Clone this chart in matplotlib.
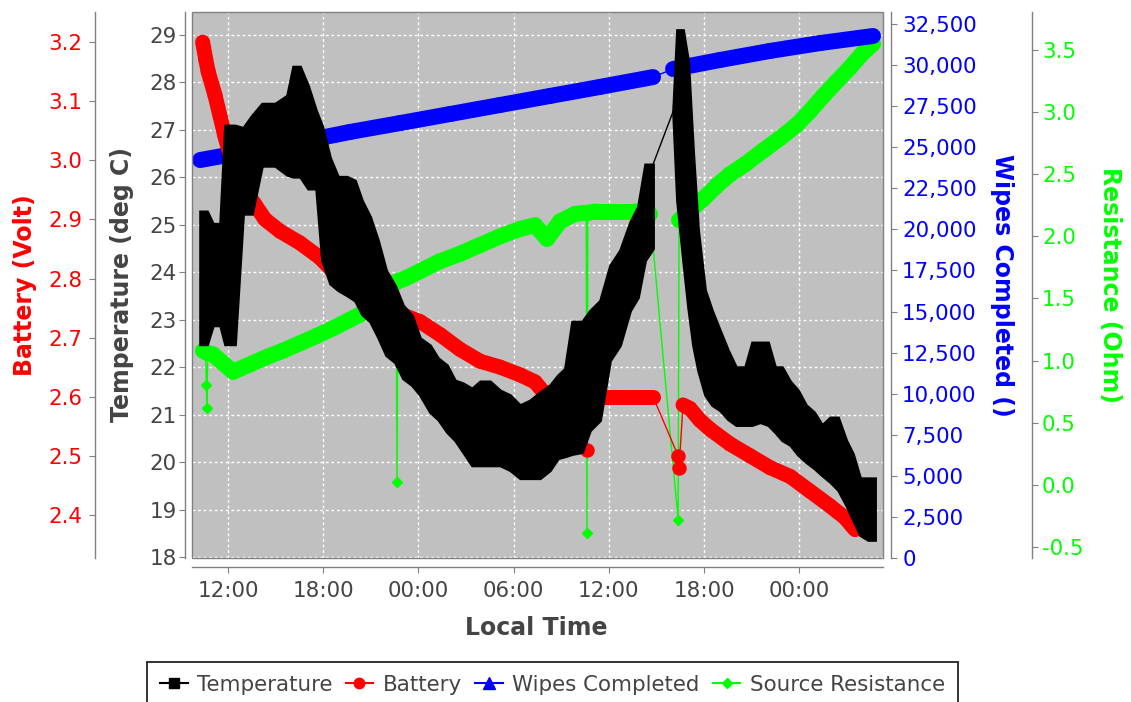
import numpy as np
import matplotlib
matplotlib.use("Agg")
import matplotlib.pyplot as plt
from matplotlib.collections import LineCollection
from matplotlib.lines import Line2D
from matplotlib.patches import Rectangle
from matplotlib.ticker import FixedLocator, FuncFormatter

# all times are hours counted from midnight of the first day
TEMP_HOURS = [10.24, 10.68, 11.05, 11.50, 11.81, 12.44, 12.95, 13.51, 14.14, 14.96,
              15.72, 16.10, 16.54, 17.04, 17.55, 17.92, 18.43, 18.93, 19.50, 20.00,
              20.44, 20.95, 21.45, 21.96, 22.52, 23.03, 23.59, 24.10, 24.73, 25.23,
              25.80, 26.30, 26.81, 27.37, 27.88, 28.51, 29.14, 29.77, 30.40, 31.03,
              31.66, 32.29, 32.79, 33.23, 33.68, 34.31, 34.81, 35.44, 36.07, 36.70,
              37.33, 37.83, 38.28, 38.78, 40.04, 40.29, 40.67, 40.99, 41.30, 41.62,
              42.06, 42.50, 43.00, 43.51, 44.01, 44.58, 45.02, 45.52, 46.03, 46.47,
              46.91, 47.42, 47.92, 48.42, 48.93, 49.43, 49.94, 50.44, 50.95, 51.38,
              51.83, 52.33, 52.77]
# the temperature flickers between two readings, so keep the top and bottom of it
TEMP_HIGH = [25.28, 25.28, 25.02, 25.02, 27.09, 27.09, 27.04, 27.30, 27.55, 27.55,
             27.72, 28.33, 28.33, 27.93, 27.40, 27.09, 26.41, 26.01, 26.01, 25.93,
             25.51, 25.17, 24.67, 24.04, 23.72, 23.30, 23.09, 22.61, 22.46, 22.19,
             22.04, 21.72, 21.66, 21.55, 21.70, 21.70, 21.51, 21.41, 21.20, 21.30,
             21.47, 21.62, 21.83, 21.97, 22.96, 22.96, 23.19, 23.40, 24.14, 24.46,
             25.05, 25.38, 26.27, 26.27, 27.38, 29.10, 29.10, 28.45, 26.56, 24.88,
             23.62, 23.19, 22.77, 22.35, 22.00, 22.00, 22.52, 22.52, 22.52, 22.00,
             22.00, 21.70, 21.51, 21.20, 21.05, 20.78, 20.94, 20.94, 20.46, 20.17,
             19.66, 19.66, 19.66]
TEMP_LOW = [22.48, 22.48, 22.88, 22.88, 22.48, 22.48, 25.23, 25.23, 26.24, 26.24,
            26.05, 26.01, 26.01, 25.76, 25.76, 24.25, 23.76, 23.62, 23.51, 23.40,
            23.11, 22.96, 22.63, 22.25, 22.10, 21.76, 21.62, 21.41, 21.05, 20.90,
            20.63, 20.46, 20.21, 19.93, 19.93, 19.93, 19.93, 19.83, 19.66, 19.66,
            19.66, 19.83, 20.08, 20.12, 20.17, 20.21, 20.67, 20.88, 22.14, 22.46,
            23.19, 23.47, 24.25, 24.50, 27.38, 25.51, 24.25, 23.26, 22.46, 21.93,
            21.41, 21.20, 21.09, 20.90, 20.78, 20.78, 20.78, 20.84, 20.78, 20.63,
            20.46, 20.36, 20.15, 20.00, 19.87, 19.72, 19.58, 19.41, 19.09, 18.78,
            18.46, 18.36, 18.36]

BATT_HOURS = [10.40, 10.60, 10.75, 11.18, 11.81, 12.44, 13.07, 13.70, 14.33, 15.28,
              16.54, 17.80, 19.06, 20.32, 21.58, 22.84, 24.10, 25.36, 26.62, 27.88,
              29.14, 30.40, 31.34, 31.97, 32.92, 34.18, 34.57, 34.67, 34.81, 36.07,
              37.33, 38.78, 40.67, 41.11, 41.74, 42.37, 43.63, 44.89, 46.15, 47.42,
              48.68, 49.94, 50.88, 51.51]
BATT_VOLTS = [3.20, 3.17, 3.15, 3.11, 3.04, 2.98, 2.95, 2.925, 2.90, 2.88,
              2.86, 2.835, 2.80, 2.77, 2.755, 2.74, 2.727, 2.705, 2.68, 2.66,
              2.65, 2.637, 2.625, 2.605, 2.60, 2.60, 2.60, 2.60, 2.60, 2.60,
              2.60, 2.60, 2.586, 2.58, 2.56, 2.545, 2.52, 2.50, 2.48, 2.465,
              2.44, 2.415, 2.395, 2.375]
BATT_GLITCH_HOURS = [34.62, 40.36, 40.42]
BATT_GLITCH_VOLTS = [2.51, 2.50, 2.48]

WIPES_HOURS = [10.24, 13.39, 16.54, 19.69, 22.84, 25.99, 29.14, 32.29, 35.44, 38.78,
               40.04, 43.00, 46.15, 49.31, 52.64]
WIPES_COUNT = [24220, 24770, 25320, 25930, 26470, 27020, 27570, 28120, 28670, 29270,
               29760, 30310, 30860, 31340, 31770]

RES_HOURS = [10.42, 10.58, 10.72, 11.05, 11.68, 12.32, 13.39, 14.46, 15.47, 16.54,
             17.61, 18.62, 19.69, 20.76, 21.26, 22.21, 22.60, 22.70, 23.15, 24.10,
             25.36, 26.62, 27.88, 29.14, 30.40, 31.34, 32.10, 32.92, 33.86, 34.57,
             34.67, 35.13, 36.39, 37.64, 38.59, 40.42, 41.11, 41.93, 42.81, 43.63,
             44.58, 45.71, 46.78, 47.86, 48.68, 49.50, 50.38, 51.20, 51.95, 52.64]
RES_OHMS = [1.08, 1.07, 1.06, 1.05, 0.98, 0.91, 0.97, 1.03, 1.08, 1.14,
            1.20, 1.26, 1.33, 1.40, 1.58, 1.62, 1.63, 1.64, 1.66, 1.72,
            1.80, 1.86, 1.93, 2.00, 2.06, 2.09, 1.98, 2.12, 2.18, 2.19,
            2.19, 2.20, 2.20, 2.20, 2.18, 2.13, 2.21, 2.30, 2.41, 2.50,
            2.58, 2.69, 2.79, 2.90, 3.01, 3.13, 3.25, 3.36, 3.47, 3.55]
RES_GLITCH_HOURS = [10.64, 10.66, 22.65, 34.62, 40.36]
RES_GLITCH_OHMS = [0.80, 0.62, 0.02, -0.39, -0.28]

# logger recorded nothing in this window
OUTAGE = (38.85, 39.95)

TEMP_TICKS = list(range(18, 30))
BATT_TICKS = [2.4, 2.5, 2.6, 2.7, 2.8, 2.9, 3.0, 3.1, 3.2]
WIPES_TICKS = list(range(0, 32501, 2500))
RES_TICKS = [-0.5, 0.0, 0.5, 1.0, 1.5, 2.0, 2.5, 3.0, 3.5]

TEXT = "#444444"
AXIS = "#808080"
GREEN = "#00ff00"
plt.rcParams["font.family"] = ["DejaVu Sans"]
TICK_FS = 15.4
LABEL_FS = 17


def crosses_outage(t0, t1):
    return (t0 < OUTAGE[0]) & (t1 > OUTAGE[1])


def draw_series(ax, hours, values, g_hours, g_values, color, width, marker, msize):
    h = np.asarray(hours, dtype=float)
    v = np.asarray(values, dtype=float)
    gh = np.asarray(g_hours, dtype=float)
    gv = np.asarray(g_values, dtype=float)
    t = np.concatenate([h, gh])
    y = np.concatenate([v, gv])
    order = np.argsort(t, kind="stable")
    # thin line through every reading (shows glitches and the outage jump)
    ax.plot(t[order], y[order], color=color, lw=1, zorder=1)
    # thick band through the normal readings
    keep = ~crosses_outage(h[:-1], h[1:])
    segs = np.stack([np.column_stack([h[:-1], v[:-1]]),
                     np.column_stack([h[1:], v[1:]])], axis=1)[keep]
    ax.add_collection(LineCollection(segs, colors=color, linewidths=width,
                                     capstyle="round", joinstyle="round", zorder=2))
    if len(gh):
        ax.plot(gh, gv, ls="none", marker=marker, ms=msize, color=color, zorder=3)


fig = plt.figure(figsize=(11.31, 7.02), dpi=100)
L, R, T, B = 192 / 1131, 883 / 1131, 1 - 12 / 702, 1 - 558 / 702
ax = fig.add_axes([L, B, R - L, T - B])
ax.set_facecolor("#c0c0c0")

ax_res = ax.twinx()
ax_wipes = ax.twinx()
ax_batt = ax.twinx()
ax_t = ax.twinx()

ax.set_xlim(9.73, 53.27)
ax.set_ylim(17.98, 29.48)
ax_t.set_ylim(17.98, 29.48)
ax_batt.set_ylim(2.327, 3.251)
ax_wipes.set_ylim(0, 33230)
ax_res.set_ylim(-0.589, 3.806)

for a in (ax, ax_res, ax_wipes, ax_batt, ax_t):
    for s in a.spines.values():
        s.set_visible(False)
        s.set_color(AXIS)
        s.set_linewidth(1)

# host: temperature scale, time axis, grid
ax.spines["left"].set_visible(True)
ax.spines["left"].set_position(("outward", 5))
ax.spines["bottom"].set_visible(True)
ax.spines["bottom"].set_position(("outward", 6.5))
ax.xaxis.set_major_locator(FixedLocator([12, 18, 24, 30, 36, 42, 48]))
ax.xaxis.set_major_formatter(FuncFormatter(lambda h, _: f"{int(round(h)) % 24:02d}:00"))
ax.yaxis.set_major_locator(FixedLocator(TEMP_TICKS))
ax.yaxis.set_major_formatter(FuncFormatter(lambda v, _: f"{v:.0f}"))
ax.tick_params(axis="x", colors=AXIS, labelcolor=TEXT, labelsize=TICK_FS, length=4, pad=6)
ax.tick_params(axis="y", colors=AXIS, labelcolor=TEXT, labelsize=TICK_FS, length=4, pad=2)
ax.grid(True, color="white", linestyle=(0, (2, 2)), linewidth=1)

ax_batt.yaxis.tick_left()
ax_batt.spines["left"].set_visible(True)
ax_batt.spines["left"].set_position(("outward", 70))
ax_batt.yaxis.set_major_locator(FixedLocator(BATT_TICKS))
ax_batt.yaxis.set_major_formatter(FuncFormatter(lambda v, _: f"{v:.1f}"))
ax_batt.tick_params(axis="y", colors=AXIS, labelcolor="red", labelsize=TICK_FS, length=4, pad=5)

ax_wipes.spines["right"].set_visible(True)
ax_wipes.spines["right"].set_position(("outward", 5.8))
ax_wipes.yaxis.set_major_locator(FixedLocator(WIPES_TICKS))
ax_wipes.yaxis.set_major_formatter(FuncFormatter(lambda v, _: f"{int(round(v)):,}"))
ax_wipes.tick_params(axis="y", colors=AXIS, labelcolor="blue", labelsize=TICK_FS, length=4, pad=4)

ax_res.spines["right"].set_visible(True)
ax_res.spines["right"].set_position(("outward", 107))
ax_res.yaxis.set_major_locator(FixedLocator(RES_TICKS))
ax_res.yaxis.set_major_formatter(FuncFormatter(lambda v, _: f"{v:.1f}"))
ax_res.tick_params(axis="y", colors=AXIS, labelcolor=GREEN, labelsize=TICK_FS, length=4, pad=3.5)

ax_t.yaxis.set_visible(False)

# series, back to front
draw_series(ax_res, RES_HOURS, RES_OHMS, RES_GLITCH_HOURS, RES_GLITCH_OHMS,
            GREEN, 11.5, "D", 5.5)
draw_series(ax_wipes, WIPES_HOURS, WIPES_COUNT, [], [], "blue", 11.5, "^", 8)
draw_series(ax_batt, BATT_HOURS, BATT_VOLTS, BATT_GLITCH_HOURS, BATT_GLITCH_VOLTS,
            "red", 10.8, "o", 9.4)

th = np.asarray(TEMP_HOURS)
hi = np.asarray(TEMP_HIGH)
lo = np.asarray(TEMP_LOW)
breaks = np.where(crosses_outage(th[:-1], th[1:]))[0]
starts = [0] + list(breaks + 1)
ends = list(breaks + 1) + [len(th)]
for s, e in zip(starts, ends):
    ax_t.fill_between(th[s:e], lo[s:e], hi[s:e], color="black",
                      linewidth=2, edgecolor="black", joinstyle="miter")
for b in breaks:
    ax_t.plot(th[b:b + 2], hi[b:b + 2], color="black", lw=1)

ax_t.add_patch(Rectangle((0, 0), 1, 1, transform=ax_t.transAxes, fill=False,
                         edgecolor=AXIS, linewidth=1, zorder=10, clip_on=False))

# axis titles
fig.text(536 / 1131, 1 - 628 / 702, "Local Time", ha="center", va="center",
         fontsize=LABEL_FS, fontweight="bold", color=TEXT)
fig.text(122 / 1131, 1 - 285 / 702, "Temperature (deg C)", ha="center", va="center",
         rotation=90, fontsize=LABEL_FS, fontweight="bold", color=TEXT)
fig.text(25 / 1131, 1 - 285 / 702, "Battery (Volt)", ha="center", va="center",
         rotation=90, fontsize=LABEL_FS, fontweight="bold", color="red")
fig.text(1002 / 1131, 1 - 285 / 702, "Wipes Completed ()", ha="center", va="center",
         rotation=-90, fontsize=LABEL_FS, fontweight="bold", color="blue")
fig.text(1110 / 1131, 1 - 285 / 702, "Resistance (Ohm)", ha="center", va="center",
         rotation=-90, fontsize=LABEL_FS, fontweight="bold", color=GREEN)

handles = [
    Line2D([], [], color="black", marker="s", ms=7, lw=1.5),
    Line2D([], [], color="red", marker="o", ms=7.5, lw=1.5),
    Line2D([], [], color="blue", marker="^", ms=8, lw=1.5),
    Line2D([], [], color=GREEN, marker="D", ms=5.5, lw=1.5),
]
labels = ["Temperature", "Battery", "Wipes Completed", "Source Resistance"]
leg = fig.legend(handles, labels, loc="upper center", ncol=4,
                 bbox_to_anchor=(552.5 / 1131, 1 - 662 / 702), fontsize=TICK_FS,
                 labelcolor=TEXT, frameon=True, fancybox=False, framealpha=1,
                 edgecolor="#222222", handlelength=1.3, handletextpad=0.45,
                 columnspacing=0.6, borderpad=0.6, borderaxespad=0)
leg.get_frame().set_linewidth(1.3)

fig.savefig("out.png", dpi=100, facecolor="white")
plt.close(fig)
